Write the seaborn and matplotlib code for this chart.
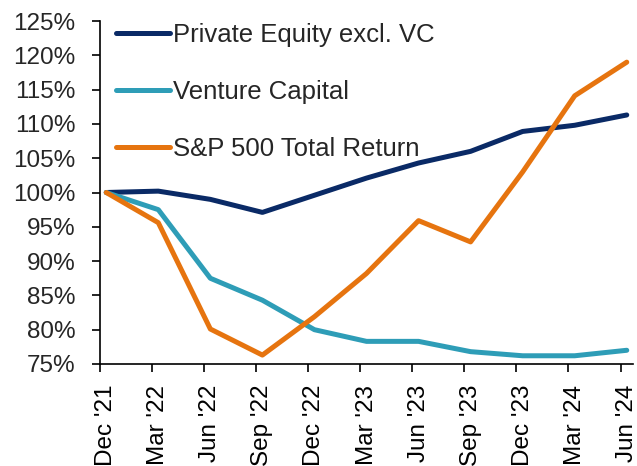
import pandas as pd
import numpy as np
import matplotlib
matplotlib.use('Agg')
import matplotlib.pyplot as plt
import seaborn as sns

quarters = ["Dec '21", "Mar '22", "Jun '22", "Sep '22", "Dec '22", "Mar '23",
            "Jun '23", "Sep '23", "Dec '23", "Mar '24", "Jun '24"]
private_equity = [100.0, 100.2, 99.0, 97.1, 99.6, 102.1, 104.3, 106.0, 108.9, 109.8, 111.3]
venture_capital = [100.0, 97.5, 87.5, 84.3, 80.0, 78.3, 78.3, 76.8, 76.2, 76.2, 77.0]
sp500 = [100.0, 95.6, 80.1, 76.3, 81.9, 88.2, 95.9, 92.8, 103.0, 114.1, 119.0]
series_names = ['Private Equity excl. VC', 'Venture Capital', 'S&P 500 Total Return']
colors = ['#0A2A66', '#2E9DB7', '#E6740F']

df = pd.DataFrame({
    'x': np.tile(np.arange(len(quarters)), 3),
    'value': private_equity + venture_capital + sp500,
    'series': np.repeat(series_names, len(quarters)),
})

sns.set_style('ticks')
plt.rcParams['font.family'] = ['Liberation Sans', 'DejaVu Sans']

fig = plt.figure(figsize=(6.37, 4.66), dpi=100)
ax = fig.add_axes([100 / 637, 1 - 364 / 466, 533 / 637, 343 / 466])

sns.lineplot(data=df, x='x', y='value', hue='series', palette=colors,
             hue_order=series_names, linewidth=3.6, ax=ax)

# axis limits / ticks (Excel style: tick marks between labels)
ax.set_xlim(-0.12, 10.12)
ax.set_ylim(75, 125)
ax.set_yticks(np.arange(75, 126, 5))
ax.set_yticklabels([f'{v}%' for v in range(75, 126, 5)])
ax.set_xticks(np.arange(len(quarters)))
ax.set_xticklabels(quarters, rotation=90)
ax.set_xticks(np.arange(len(quarters)) - 0.12, minor=True)
ax.tick_params(axis='x', which='major', length=0, pad=15, labelsize=17.5, colors='black')
ax.tick_params(axis='x', which='minor', length=6, width=1.2, color='black')
ax.tick_params(axis='y', length=6, width=1.2, pad=11.5, labelsize=17.5, color='black')
ax.set_xlabel('')
ax.set_ylabel('')
for side in ['left', 'bottom']:
    ax.spines[side].set_color('black')
    ax.spines[side].set_linewidth(1.2)
sns.despine(ax=ax)

leg = ax.legend(loc='upper left', bbox_to_anchor=(116 / 637, 1 - 23 / 466),
                bbox_transform=fig.transFigure, frameon=False, fontsize=18.5,
                handlelength=2.1, handletextpad=0.12, labelspacing=1.28,
                borderpad=0, borderaxespad=0)
for line in leg.get_lines():
    line.set_linewidth(3.6)

fig.savefig('out.png', dpi=100)
